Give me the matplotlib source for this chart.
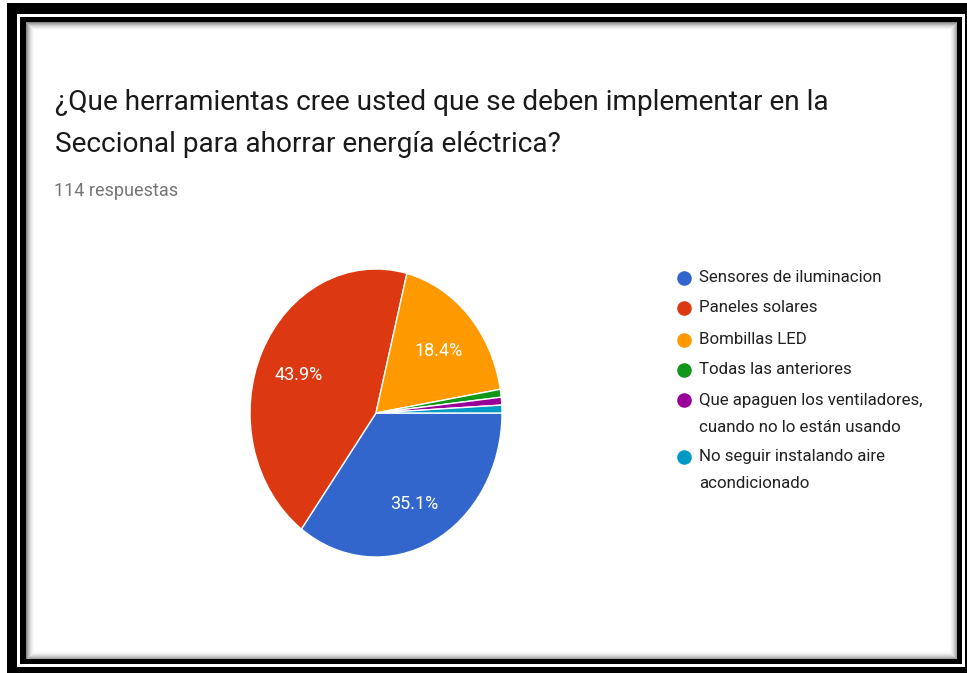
import matplotlib
matplotlib.use('Agg')
import matplotlib.pyplot as plt
from matplotlib.patches import Rectangle

# datos de la encuesta (114 respuestas)
labels = ['Sensores de iluminacion', 'Paneles solares', 'Bombillas LED',
          'Todas las anteriores',
          'Que apaguen los ventiladores,\ncuando no lo están usando',
          'No seguir instalando aire\nacondicionado']
counts = [40, 50, 21, 1, 1, 1]
colors = ['#3366CC', '#DC3912', '#FF9900', '#109618', '#990099', '#0099C6']
title_lines = ['¿Que herramientas cree usted que se deben implementar en la',
               'Seccional para ahorrar energía eléctrica?']
subtitle = '114 respuestas'

W, H = 967, 673
fig = plt.figure(figsize=(W / 100, H / 100), dpi=100)
fig.patch.set_facecolor('white')
plt.rcParams['font.family'] = ['Roboto', 'DejaVu Sans']

# fondo con marco en coordenadas de pixel
bg = fig.add_axes([0, 0, 1, 1])
bg.set_xlim(0, W)
bg.set_ylim(H, 0)
bg.axis('off')
bg.add_patch(Rectangle((7, 3), W - 7, H - 3, color='black', lw=0))
bg.add_patch(Rectangle((17, 14), 965 - 17, 667 - 14, color='white', lw=0))
bg.add_patch(Rectangle((20, 17), 962 - 20, 664 - 17, color='black', lw=0))
bg.add_patch(Rectangle((26, 22), 957 - 26, 659 - 22, color='white', lw=0))
# sombra interior
for i in range(9):
    a = 0.45 * (1 - i / 9) ** 2
    bg.add_patch(Rectangle((26 + i, 22 + i), 957 - 26 - 2 * i, 659 - 22 - 2 * i,
                           fill=False, ec='black', alpha=a, lw=0.75))

# titulo
bg.text(55, 110, title_lines[0], fontsize=20.2, color='#1a1a1a', va='baseline')
bg.text(55, 152, title_lines[1], fontsize=20.2, color='#1a1a1a', va='baseline')
bg.text(54, 196, subtitle, fontsize=13, color='#757575', va='baseline')

# leyenda
rows_y = [278, 308, 340, 370, 400, 457]
for lab, c, y in zip(labels, colors, rows_y):
    bg.scatter([684], [y], s=110, color=c, lw=0)
    for k, line in enumerate(lab.split('\n')):
        bg.text(699, y + 27 * k, line, fontsize=12.2, color='#212121', va='center')

# pastel (la captura esta estirada verticalmente)
cx, cy, rx, ry = 376, 413, 126, 144
ax = fig.add_axes([(cx - rx) / W, (H - cy - ry) / H, 2 * rx / W, 2 * ry / H])


def pct(p):
    return '%.1f%%' % p if p > 5 else ''


wedges, texts, autotexts = ax.pie(counts, colors=colors, startangle=0, counterclock=False,
                                  autopct=pct, pctdistance=0.68,
                                  wedgeprops=dict(edgecolor='white', linewidth=1),
                                  textprops=dict(color='white', fontsize=13))
for t in autotexts:
    x, y = t.get_position()
    t.set_position((x, y - 4 / ry))
ax.set_aspect('auto')
ax.set_xlim(-1, 1)
ax.set_ylim(-1, 1)
ax.axis('off')

fig.savefig('out.png', dpi=100, facecolor='white')
